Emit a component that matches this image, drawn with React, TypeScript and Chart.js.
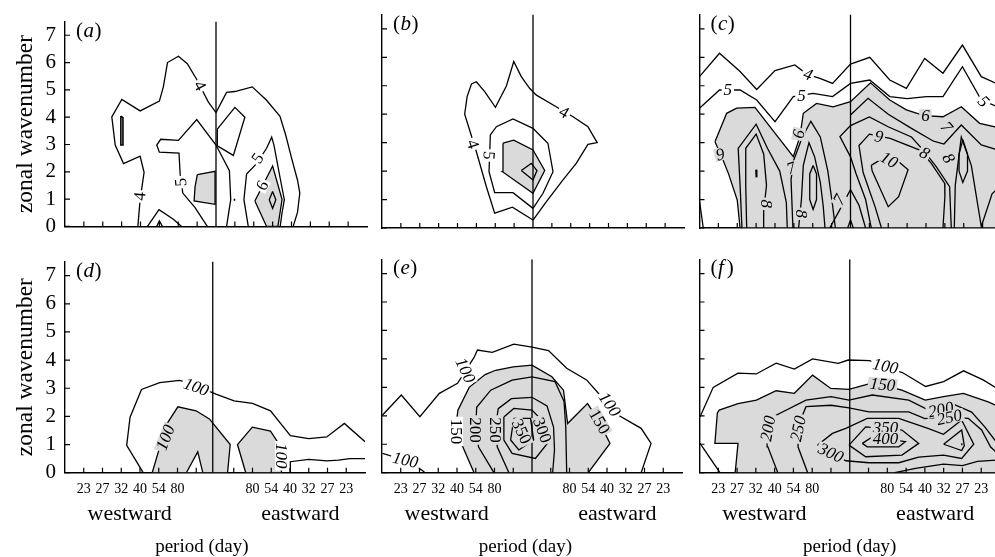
import React, { useEffect, useRef } from "react";
import Chart from "chart.js/auto";

type Pt = [number, number];

const FONT = "'Liberation Serif', 'Times New Roman', Times, serif";
const GRAY = "#dadada";
const WHITE = "#ffffff";

// ---- axes ----
const xTickValues = [-7, -6, -5, -4, -3, -2, -1, 1, 2, 3, 4, 5, 6, 7];
const periodTickIndex = [2, 3, 4, 5, 6, 7];
const periodTickText = ["80", "54", "40", "32", "27", "23"];
const yTickValues = [0, 1, 2, 3, 4, 5, 6, 7];

// ---- panel (a) ----
const aContour4: Pt[] = [[-4.14,0],[-4.02,0.98],[-3.81,1.98],[-4.02,2.57],[-4.9,2.3],[-5.34,2.98],[-5.52,4.01],[-4.99,4.65],[-4.02,4.23],[-3.0,4.59],[-2.79,5.11],[-2.57,6.0],[-1.99,6.23],[-1.52,5.96],[-1.02,5.38],[-0.41,4.56],[0,4.17],[0.56,4.91],[1.0,4.94],[1.92,5.11],[2.68,4.62],[3.39,4.03],[3.7,3.33],[4.0,2.51],[4.32,1.69],[4.44,1.22],[4.32,0.52],[4.09,0]];
const aSliver: Pt[] = [[-5.04,4.04],[-4.93,3.98],[-4.93,2.98],[-5.04,2.98]];
const aBump: Pt[] = [[-3.63,0],[-3.02,0.61],[-2.26,0.26],[-1.82,0]];
const aBumpInner: Pt[] = [[-3.14,0],[-3.0,0.2],[-2.84,0]];
const aContour5L: Pt[] = [[-0.46,0],[-1.11,0.69],[-1.76,1.22],[-1.9,1.92],[-1.96,2.68],[-3.0,2.72],[-3.14,2.98],[-2.93,3.19],[-1.99,3.15],[-1.02,3.91],[0,2.98],[0.71,2.04],[0.78,0.98],[0.56,0]];
const aContour5S: Pt[] = [[0.07,3.56],[1.0,4.36],[1.53,4.0],[0.92,2.6],[0.07,2.95]];
const aContour5R: Pt[] = [[1.71,0],[1.48,0.98],[1.62,1.92],[2.15,2.3],[2.68,2.86],[2.95,3.27],[3.07,2.98],[3.39,1.8],[3.62,0.98],[3.5,0.5],[3.4,0]];
const aGrayR: Pt[] = [[2.06,0.93],[3.0,2.21],[3.5,0.98],[3.28,0],[2.68,0]];
const aDiamond: Pt[] = [[3.0,1.28],[3.17,0.98],[3.0,0.66],[2.82,0.98]];
const aGrayL: Pt[] = [[-0.99,1.9],[-0.05,2.02],[-0.05,0.81],[-1.16,0.93],[-1.11,1.45]];
const aDot: Pt[] = [[0.94,0.98],[1.02,0.98]];

// ---- panel (b) ----
const bContour4: Pt[] = [[0,0.28],[-1.09,0.73],[-2.03,0.52],[-2.47,1.45],[-3.0,2.68],[-3.62,4.0],[-3.49,4.62],[-3.26,5.06],[-3.0,5.14],[-2.56,4.79],[-1.99,4.24],[-1.41,4.99],[-1.02,5.85],[-0.62,5.32],[-0.18,4.91],[0.18,4.67],[1.23,4.26],[2.12,3.91],[2.91,3.56],[3.4,3.0],[2.91,2.94],[2.29,2.27],[1.59,1.69],[0.71,0.93]];
const bContour5: Pt[] = [[0,0.69],[-1.06,1.24],[-2.03,1.24],[-2.33,1.98],[-2.26,3.27],[-1.94,3.56],[-1.06,3.83],[0,3.5],[0.44,3.21],[0.79,2.98],[1.06,1.98],[0.53,1.22]];
const bGray: Pt[] = [[-1.59,2.98],[-1.02,3.09],[0,2.74],[0.62,2.02],[0,1.22],[-1.62,1.98]];
const bDiamond: Pt[] = [[-0.62,2.02],[-0.09,2.27],[0.21,2.02],[0,1.69]];

// ---- panel (c) ----
const cContour4: Pt[] = [[-8,5.32],[-6.94,6.14],[-5.85,5.5],[-4.97,4.87],[-4.0,5.53],[-2.95,5.73],[-2.3,5.4],[-1.62,5.26],[-0.95,5.08],[0,5.76],[1.02,6.0],[2.08,5.2],[2.96,4.91],[3.93,5.96],[4.9,5.44],[5.93,6.43],[6.93,5.32],[8,5.0]];
const cContour5: Pt[] = [[-8,4.21],[-6.94,4.85],[-5.85,4.85],[-4.97,4.5],[-4.0,3.74],[-3.03,4.62],[-1.98,4.73],[-0.95,4.62],[0,5.08],[1.02,5.2],[2.08,4.62],[3.0,4.55],[4.02,4.62],[4.9,4.62],[5.93,5.67],[6.93,4.5],[8,4.2]];
const cGray: Pt[] = [[-7.18,3.03],[-6.56,4.03],[-6.03,4.21],[-5.06,4.24],[-4.27,3.56],[-3.03,2.51],[-2.68,3.21],[-2.5,4.03],[-1.8,4.38],[-0.92,4.26],[0,4.44],[1.06,5.1],[2.08,4.5],[2.96,4.15],[3.9,3.95],[4.9,3.91],[5.87,4.26],[6.84,3.68],[8,3.5],[8,0],[-5.85,0],[-6.0,0.98],[-6.47,1.92],[-6.83,2.51]];
const cLeft7: Pt[] = [[-5.75,0],[-5.85,1.5],[-5.95,2.8],[-5.0,3.65],[-4.4,2.8],[-3.75,2.0],[-3.4,0.9],[-3.35,0]];
const cLeft8: Pt[] = [[-5.5,0],[-5.55,1.5],[-5.55,2.8],[-5.0,3.3],[-4.6,2.6],[-4.45,1.5],[-4.6,0.6],[-4.6,0]];
const cLeftPeak: Pt[] = [[-5.0,2.05],[-4.98,1.78]];
const cEdge: Pt[] = [[-8,0.95],[-7.8,0]];
const cMid7: Pt[] = [[-3.05,0],[-3.15,1.7],[-3.0,2.4],[-2.55,3.2],[-2.1,3.75],[-1.6,3.2],[-1.2,2.0],[-0.95,0.8],[-0.8,0]];
const cMid8: Pt[] = [[-2.75,0],[-2.6,1.0],[-2.5,2.2],[-2.2,3.0],[-1.9,2.5],[-1.6,1.6],[-1.45,0.8],[-1.35,0]];
const cMidLoop: Pt[] = [[-1.98,2.2],[-1.8,1.9],[-1.8,1.0],[-1.98,0.65],[-2.16,1.0],[-2.16,1.9]];
const cCenterPeak: Pt[] = [[-1.1,0],[-0.6,0.6],[0,1.35],[0.45,0.8],[0.8,0]];
const cCenterV: Pt[] = [[-0.15,0],[0,0.28],[0.15,0]];
const cRight7: Pt[] = [[0,3.97],[0.93,4.56],[2.0,4.0],[3.23,3.5],[4.4,3.05],[4.95,2.95],[5.87,3.62],[6.93,2.92],[8,2.7]];
const cRight8: Pt[] = [[1.1,0],[0.8,1.0],[0.3,1.9],[0,2.5],[-0.56,3.21],[0,3.6],[1.0,3.9],[2.02,3.55],[3.23,3.2],[3.9,2.7],[4.55,2.15],[5.25,1.45],[5.34,0]];
const cRight9: Pt[] = [[1.64,0],[1.3,0.75],[0.67,1.95],[0.45,2.9],[1.0,3.3],[2.1,3.15],[3.67,2.74],[4.28,2.27],[4.99,1.57],[5.0,1.1],[4.9,0]];
const cRight10: Pt[] = [[1.1,2.2],[2.08,2.6],[3.05,2.05],[2.55,1.1],[2.0,0.75],[1.15,2.0]];
const cRightLoop: Pt[] = [[5.95,3.1],[6.2,2.6],[6.2,2.0],[5.95,1.6],[5.75,2.0],[5.75,2.6]];
const cRightRidge: Pt[] = [[5.5,0],[5.55,1.5],[5.87,3.2],[6.4,2.2],[6.93,0.05],[7.5,1.2],[8,1.5]];

// ---- panel (d) ----
const dContour100: Pt[] = [[-3.83,0],[-4.71,0.97],[-4.53,1.97],[-3.92,2.96],[-2.95,3.2],[-1.89,3.28],[-1.2,3.15],[0.05,2.79],[1.02,2.55],[2.0,2.46],[2.96,2.2],[4.02,1.32],[5.0,1.21],[5.96,1.27],[6.9,1.75],[8,1.1]];
const dContour100Low: Pt[] = [[4.02,0],[4.02,0.39],[5.0,0.47],[5.96,0.42],[6.58,0.45],[7.2,0.5],[8,0.5]];
const dGrayL: Pt[] = [[-3.35,0],[-2.95,0.9],[-2.6,1.7],[-1.98,2.34],[-1.01,2.2],[-0.3,1.91],[0.81,1.0],[0.67,0]];
const dHole: Pt[] = [[-1.53,0],[-0.92,0.74],[-0.65,0]];
const dGrayR: Pt[] = [[1.64,0],[1.2,1.0],[1.99,1.62],[2.96,1.48],[3.4,1.03],[3.55,0]];

// ---- panel (e) ----
const eContour100: Pt[] = [[-7.97,2.03],[-6.97,2.73],[-5.98,1.97],[-4.94,2.79],[-3.97,3.14],[-3.09,4.05],[-2.91,4.31],[-2.12,4.23],[-0.97,4.52],[0,4.41],[0.88,4.29],[1.85,3.67],[2.91,3.26],[3.6,2.75],[4.59,2.03],[5.82,1.56],[6.35,1.03],[5.82,0]];
const eContour100Low: Pt[] = [[-7.97,0.68],[-6.7,0.42],[-5.9,0.1],[-5.7,0]];
const eGray150: Pt[] = [[-3.09,0],[-3.75,1.0],[-4.05,1.7],[-3.95,2.2],[-3.35,3.0],[-2.5,3.45],[-1.94,3.6],[-1.0,3.72],[0,3.78],[1.06,3.37],[1.68,2.9],[1.9,1.73],[2.96,2.43],[3.5,1.9],[4.16,1.03],[3.0,0]];
const eContour200: Pt[] = [[-2.03,0],[-2.85,0.9],[-3.0,1.6],[-2.95,2.3],[-2.2,2.9],[-1.06,3.25],[0,3.37],[1.23,3.2],[1.71,2.5],[1.8,1.6],[1.85,0]];
const eContour250: Pt[] = [[-1.23,0],[-1.85,0.9],[-1.95,1.6],[-1.8,2.25],[-1.1,2.6],[0,2.65],[0.8,2.35],[1.15,1.6],[1.2,0.8],[1.1,0]];
const eContour300: Pt[] = [[-1.5,1.96],[-0.97,2.26],[0,2.2],[0.6,1.8],[0.97,1.15],[0.18,0.5],[-1.06,0.68],[-1.5,1.15]];
const eContour350: Pt[] = [[-0.97,1.91],[-0.08,1.91],[0.09,1.15],[-0.7,0.8],[-1.14,1.15]];

// ---- panel (f) ----
const fContour100Low: Pt[] = [[-7.97,1.03],[-6.91,0]];
const fContour100: Pt[] = [[-7.97,1.97],[-7.27,3.0],[-5.95,3.5],[-4.98,3.47],[-3.92,3.85],[-2.95,3.64],[-1.98,4.0],[-0.61,3.84],[-0.08,3.96],[1.06,3.94],[1.9,3.7],[2.8,3.52],[4.04,3.03],[5.0,3.2],[6.06,3.58],[7.1,3.26],[8,2.9]];
const fGray150: Pt[] = [[-6.1,0],[-5.95,1.03],[-7.18,1.03],[-7.05,2.1],[-6.95,2.2],[-5.95,2.43],[-4.97,2.55],[-3.92,2.88],[-2.95,2.79],[-1.98,3.43],[-1.01,2.96],[-0.04,2.93],[1.11,3.14],[1.9,3.05],[2.78,2.9],[4.02,2.55],[4.99,2.67],[6.05,2.79],[7.37,2.49],[8,2.3],[8,0]];
const fContour200: Pt[] = [[-3.83,0],[-4.36,0.91],[-4.4,1.6],[-3.92,2.02],[-2.33,2.55],[-1.0,2.67],[-0.04,2.55],[1.2,2.73],[3.14,2.55],[4.2,2.2],[5.61,2.38],[6.49,2.13],[7.2,1.6],[7.72,1.15],[8,1.0]];
const fContour250: Pt[] = [[-2.24,0],[-2.75,0.9],[-2.77,1.6],[-2.33,2.32],[-1.0,2.37],[-0.04,2.28],[1.02,2.14],[3.14,2.14],[4.0,1.9],[4.9,1.95],[6.31,1.91],[7.02,1.5],[7.5,0.9],[8,0.6]];
const fContour300: Pt[] = [[-1.71,0.97],[-0.92,1.38],[-0.21,1.56],[0.93,1.91],[2.61,1.91],[4.2,1.55],[4.99,1.35],[5.96,1.85],[6.6,1.0],[5.96,0.5],[4.99,0.62],[3.67,0.55],[2.61,0.35],[1.02,0.35],[-0.21,0.42]];
const fContour350: Pt[] = [[-0.04,0.97],[0.85,1.61],[2.78,1.5],[3.67,1.03],[2.78,0.62],[0.85,0.56]];
const fContour400: Pt[] = [[0.67,1.03],[1.2,1.26],[2.96,1.09],[2.61,0.91],[0.93,0.91]];
const fDiamond: Pt[] = [[5.0,1.0],[5.96,1.5],[6.1,0.95],[5.96,0.78]];
const fDot: Pt[] = [[5.93,1.0],[6.0,1.0]];
const fLow: Pt[] = [[2.4,0],[3.5,0.15],[4.99,0.3],[6.0,0.25],[6.8,0.4],[8,0.45]];

// ---- contour labels ----
type Lab = { x: number; y: number; t: string; rot: number; bg?: string; it?: boolean };
const aLabels: Lab[] = [
  { x: -4.05, y: 1.1, t: "4", rot: -85, bg: WHITE },
  { x: -0.85, y: 5.15, t: "4", rot: 62, bg: WHITE },
  { x: -1.87, y: 1.62, t: "5", rot: -95, bg: WHITE },
  { x: 2.2, y: 2.5, t: "5", rot: -55, bg: WHITE },
  { x: 2.45, y: 1.5, t: "6", rot: -62, bg: WHITE },
];
const bLabels: Lab[] = [
  { x: -3.18, y: 2.95, t: "4", rot: 72, bg: WHITE },
  { x: 1.65, y: 4.07, t: "4", rot: 30, bg: WHITE },
  { x: -2.33, y: 2.55, t: "5", rot: 95, bg: WHITE },
];
const cLabels: Lab[] = [
  { x: -2.25, y: 5.4, t: "4", rot: 20, bg: WHITE, it: true },
  { x: -6.5, y: 4.85, t: "5", rot: 0, bg: WHITE, it: true },
  { x: -2.6, y: 4.67, t: "5", rot: 0, bg: WHITE, it: true },
  { x: 7.05, y: 4.45, t: "5", rot: 45, bg: WHITE, it: true },
  { x: -6.88, y: 2.6, t: "6", rot: 165, bg: GRAY, it: true },
  { x: -2.75, y: 3.3, t: "6", rot: -80, bg: GRAY, it: true },
  { x: 3.97, y: 3.95, t: "6", rot: 0, bg: GRAY, it: true },
  { x: -3.15, y: 2.1, t: "7", rot: -20, bg: GRAY, it: true },
  { x: -0.6, y: 1.0, t: "7", rot: -60, bg: GRAY, it: true },
  { x: 5.1, y: 3.55, t: "7", rot: 50, bg: GRAY, it: true },
  { x: -4.45, y: 0.85, t: "8", rot: 90, bg: GRAY, it: true },
  { x: -2.6, y: 0.5, t: "8", rot: 90, bg: GRAY, it: true },
  { x: 3.93, y: 2.64, t: "8", rot: 30, bg: GRAY, it: true },
  { x: 5.2, y: 2.45, t: "8", rot: 60, bg: GRAY, it: true },
  { x: 1.5, y: 3.22, t: "9", rot: 10, bg: GRAY, it: true },
  { x: 2.05, y: 2.4, t: "10", rot: 30, bg: GRAY, it: true },
];
const dLabels: Lab[] = [
  { x: -1.0, y: 3.05, t: "100", rot: 20, bg: WHITE, it: true },
  { x: -2.65, y: 1.25, t: "100", rot: -69, bg: GRAY, it: true },
  { x: 3.55, y: 0.6, t: "100", rot: 90, bg: WHITE, it: true },
];
const eLabels: Lab[] = [
  { x: -3.55, y: 3.6, t: "100", rot: 65, bg: WHITE, it: true },
  { x: -6.75, y: 0.45, t: "100", rot: 12, bg: WHITE, it: true },
  { x: 4.15, y: 2.4, t: "100", rot: 55, bg: WHITE, it: true },
  { x: -4.02, y: 1.45, t: "150", rot: 90, bg: WHITE },
  { x: -3.0, y: 1.5, t: "200", rot: 90, bg: GRAY },
  { x: -1.95, y: 1.5, t: "250", rot: 90, bg: GRAY },
  { x: -0.55, y: 1.45, t: "350", rot: 65, bg: GRAY },
  { x: 0.55, y: 1.5, t: "300", rot: 70, bg: GRAY },
  { x: 3.6, y: 1.8, t: "150", rot: 60, bg: GRAY },
];
const fLabels: Lab[] = [
  { x: 1.9, y: 3.75, t: "100", rot: 12, bg: WHITE, it: true },
  { x: 1.75, y: 3.1, t: "150", rot: 5, bg: GRAY, it: true },
  { x: -4.36, y: 1.55, t: "200", rot: -80, bg: GRAY, it: true },
  { x: -2.75, y: 1.55, t: "250", rot: -78, bg: GRAY, it: true },
  { x: 4.85, y: 2.22, t: "200", rot: -12, bg: GRAY, it: true },
  { x: 5.3, y: 1.95, t: "250", rot: -12, bg: GRAY, it: true },
  { x: 1.9, y: 1.6, t: "350", rot: 0, bg: GRAY, it: true },
  { x: 1.9, y: 1.2, t: "400", rot: 0, bg: GRAY, it: true },
  { x: -1.0, y: 0.7, t: "300", rot: 25, bg: GRAY, it: true },
];

// ---- panel assembly ----
type Line = { pts: Pt[]; closed?: boolean; fill?: string; w?: number };
type PanelDef = { key: string; col: number; row: number; vline: number; lines: Line[]; labels: Lab[]; titleShift: number };

const panels: PanelDef[] = [
  { key: "a", col: 0, row: 0, vline: 0, titleShift: 0, labels: aLabels, lines: [
    { pts: aGrayR, fill: GRAY }, { pts: aGrayL, fill: GRAY },
    { pts: aContour4 }, { pts: aSliver, closed: true, w: 1.6 }, { pts: aBump }, { pts: aBumpInner },
    { pts: aContour5L }, { pts: aContour5S, closed: true }, { pts: aContour5R }, { pts: aDiamond, closed: true }, { pts: aDot, w: 2 },
  ] },
  { key: "b", col: 1, row: 0, vline: 0, titleShift: 0, labels: bLabels, lines: [
    { pts: bGray, fill: GRAY }, { pts: bContour4, closed: true }, { pts: bContour5, closed: true }, { pts: bDiamond, closed: true },
  ] },
  { key: "c", col: 2, row: 0, vline: 0, titleShift: 0, labels: cLabels, lines: [
    { pts: cGray, fill: GRAY }, { pts: cContour4 }, { pts: cContour5 }, { pts: cLeft7 }, { pts: cLeft8 }, { pts: cLeftPeak, w: 2 },
    { pts: cEdge }, { pts: cMid7 }, { pts: cMid8 }, { pts: cMidLoop, closed: true }, { pts: cCenterPeak }, { pts: cCenterV },
    { pts: cRight7 }, { pts: cRight8 }, { pts: cRight9 }, { pts: cRight10, closed: true }, { pts: cRightLoop, closed: true }, { pts: cRightRidge },
  ] },
  { key: "d", col: 0, row: 1, vline: -0.12, titleShift: -0.7, labels: dLabels, lines: [
    { pts: dGrayL, fill: GRAY }, { pts: dGrayR, fill: GRAY }, { pts: dHole, fill: WHITE },
    { pts: dContour100 }, { pts: dContour100Low },
  ] },
  { key: "e", col: 1, row: 1, vline: 0, titleShift: -0.35, labels: eLabels, lines: [
    { pts: eGray150, fill: GRAY }, { pts: eContour100 }, { pts: eContour100Low }, { pts: eContour200 }, { pts: eContour250 },
    { pts: eContour300, closed: true }, { pts: eContour350, closed: true },
  ] },
  { key: "f", col: 2, row: 1, vline: 0, titleShift: 0, labels: fLabels, lines: [
    { pts: fGray150, fill: GRAY }, { pts: fContour100Low }, { pts: fContour100 }, { pts: fContour200 }, { pts: fContour250 },
    { pts: fContour300, closed: true }, { pts: fContour350, closed: true }, { pts: fContour400, closed: true },
    { pts: fDiamond, closed: true }, { pts: fDot, w: 2 }, { pts: fLow },
  ] },
];

// ---- layout ----
const COL_LEFT = [65, 382, 699.5];
const ROW_TOP = [14.6, 259.3];
const ROW_BOTTOM = [228, 472.7];
const ROW_CANVAS_TOP = [0, 240];
const ROW_CANVAS_H = [248, 317];
const PLOT_W = 302;
const YAXIS_W = 65;
const RIGHT_PAD = 6;

function geom(p: PanelDef) {
  const wantLeft = COL_LEFT[p.col] - YAXIS_W;
  const left = Math.floor(wantLeft);
  const padLeft = wantLeft - left;
  const top = ROW_CANVAS_TOP[p.row];
  const h = ROW_CANVAS_H[p.row];
  const w = Math.ceil(padLeft + YAXIS_W + PLOT_W + RIGHT_PAD);
  const padRight = w - (padLeft + YAXIS_W + PLOT_W);
  return { left, top, w, h, padLeft, padRight, padTop: ROW_TOP[p.row] - top, xH: h - (ROW_BOTTOM[p.row] - top) };
}

function toData(pts: Pt[], closed: boolean) {
  const d = pts.map(([x, y]) => ({ x, y }));
  if (closed) d.push({ x: pts[0][0], y: pts[0][1] });
  return d;
}

function overlay(p: PanelDef) {
  return {
    id: "overlay" + p.key,
    afterDatasetsDraw(chart: any) {
      const { ctx, scales } = chart;
      for (const L of p.labels) {
        const px = scales.x.getPixelForValue(L.x);
        const py = scales.y.getPixelForValue(L.y);
        ctx.save();
        ctx.translate(px, py);
        ctx.rotate((L.rot * Math.PI) / 180);
        ctx.font = `${L.it ? "italic " : ""}17px ${FONT}`;
        const w = ctx.measureText(L.t).width;
        if (L.bg) {
          ctx.fillStyle = L.bg;
          ctx.fillRect(-w / 2 - 2, -6.5, w + 4, 13);
        }
        ctx.fillStyle = "#000";
        ctx.textAlign = "center";
        ctx.textBaseline = "middle";
        ctx.fillText(L.t, 0, 1);
        ctx.restore();
      }
    },
    afterDraw(chart: any) {
      const { ctx, chartArea, scales } = chart;
      ctx.save();
      ctx.strokeStyle = "#000";
      ctx.lineWidth = 1.2;
      ctx.beginPath();
      for (const v of xTickValues) {
        const px = scales.x.getPixelForValue(v);
        ctx.moveTo(px, chartArea.bottom);
        ctx.lineTo(px, chartArea.bottom - 5);
      }
      for (const v of yTickValues) {
        const py = scales.y.getPixelForValue(v);
        ctx.moveTo(chartArea.left, py);
        ctx.lineTo(chartArea.left + 5, py);
      }
      ctx.stroke();
      // panel letter "(a)"
      let x = chartArea.left + 11;
      const by = chartArea.top + 15;
      ctx.fillStyle = "#000";
      ctx.textBaseline = "alphabetic";
      ctx.textAlign = "left";
      ctx.font = `21px ${FONT}`;
      ctx.fillText("(", x, by);
      x += ctx.measureText("(").width + 0.5;
      ctx.font = `italic 21px ${FONT}`;
      ctx.fillText(p.key, x, by);
      x += ctx.measureText(p.key).width + (p.key === "f" ? 3 : 0.5);
      ctx.font = `21px ${FONT}`;
      ctx.fillText(")", x, by);
      if (p.row === 1) {
        ctx.textAlign = "center";
        ctx.textBaseline = "middle";
        ctx.font = `22px ${FONT}`;
        ctx.fillText("westward", scales.x.getPixelForValue(-4.55), chartArea.bottom + 42);
        ctx.fillText("eastward", scales.x.getPixelForValue(4.55), chartArea.bottom + 42);
        ctx.font = `19px ${FONT}`;
        ctx.fillText("period (day)", scales.x.getPixelForValue(p.titleShift), chartArea.bottom + 74);
      }
      ctx.restore();
    },
  };
}

function buildConfig(p: PanelDef): any {
  const g = geom(p);
  const showX = p.row === 1;
  const showY = p.col === 0;
  const datasets: any[] = p.lines.map((l) => ({
    data: toData(l.pts, !!(l.closed || l.fill)),
    borderColor: "#000",
    borderWidth: l.w ?? 1.3,
    backgroundColor: l.fill ?? "transparent",
    fill: l.fill ? "shape" : false,
    pointRadius: 0,
    pointHoverRadius: 0,
    tension: 0,
    order: l.fill ? (l.fill === GRAY ? 3 : 2) : 1,
  }));
  datasets.push({
    data: [{ x: p.vline, y: 0 }, { x: p.vline, y: 7.5 }],
    borderColor: "#000",
    borderWidth: 1.3,
    pointRadius: 0,
    fill: false,
    order: 0,
  });
  const border = { display: true, color: "#000", width: 1.4 };
  return {
    type: "line",
    data: { datasets },
    options: {
      responsive: false,
      animation: false,
      devicePixelRatio: 1,
      events: [],
      layout: { padding: { top: g.padTop, right: g.padRight, bottom: 0, left: g.padLeft } },
      plugins: { legend: { display: false }, tooltip: { enabled: false } },
      scales: {
        x: {
          type: "linear",
          min: -8,
          max: 8,
          grid: { display: false, drawTicks: false },
          border,
          ticks: {
            display: showX,
            stepSize: 1,
            autoSkip: false,
            maxRotation: 0,
            includeBounds: false,
            padding: 8,
            color: "#000",
            font: { family: FONT, size: 14 },
            callback: (v: number) => {
              const i = periodTickIndex.indexOf(Math.abs(v));
              return i >= 0 ? periodTickText[i] : "";
            },
          },
          afterFit: (s: any) => {
            s.height = g.xH;
          },
        },
        y: {
          type: "linear",
          min: 0,
          max: 7.5,
          grid: { display: false, drawTicks: false },
          border,
          ticks: {
            display: showY,
            stepSize: 1,
            includeBounds: false,
            padding: 9,
            color: "#000",
            font: { family: FONT, size: 21 },
            callback: (v: number) => (Number.isInteger(v) ? String(v) : ""),
          },
          title: {
            display: showY,
            text: "zonal wavenumber",
            color: "#000",
            font: { family: FONT, size: 23.5, lineHeight: 1 },
            padding: { top: 14, bottom: 0 },
          },
          afterFit: (s: any) => {
            s.width = YAXIS_W;
          },
        },
      },
    },
    plugins: [overlay(p)],
  };
}

function Panel({ p }: { p: PanelDef }) {
  const ref = useRef<HTMLCanvasElement>(null);
  const g = geom(p);
  useEffect(() => {
    if (!ref.current) return;
    const chart = new Chart(ref.current, buildConfig(p));
    return () => chart.destroy();
  }, [p]);
  return (
    <canvas
      ref={ref}
      width={g.w}
      height={g.h}
      style={{ position: "absolute", left: g.left, top: g.top, width: g.w, height: g.h }}
    />
  );
}

export default function App() {
  return (
    <div style={{ position: "absolute", left: 0, top: 0, width: 995, height: 557, overflow: "hidden", background: "#fff" }}>
      {panels.map((p) => (
        <Panel key={p.key} p={p} />
      ))}
    </div>
  );
}
